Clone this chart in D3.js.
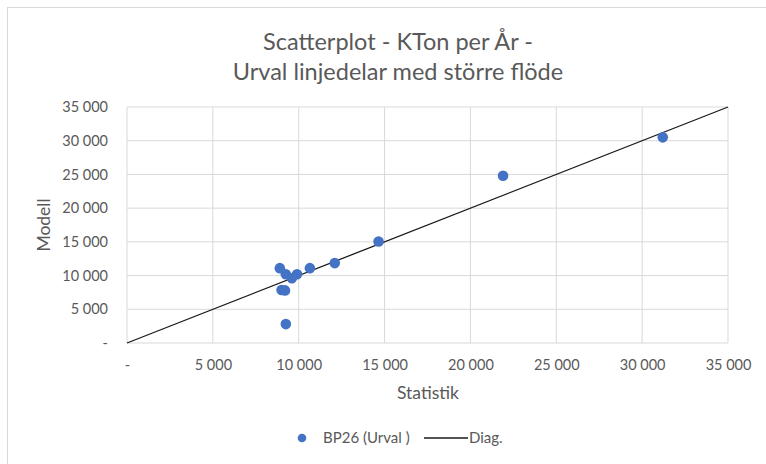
<!DOCTYPE html>
<html>
<head>
<meta charset="utf-8">
<script src="https://cdn.jsdelivr.net/npm/d3@7"></script>
<style>
  body { margin: 0; background: #fff; }
  text { font-family: Lato, "Open Sans", sans-serif; fill: #595959; }
</style>
</head>
<body>
<div id="chart"></div>
<script>
// BP26 (Urval) points: Statistik vs Modell
const statistik = [31200, 21900, 14650, 12100, 10650, 9900, 9600, 9250, 8900, 9000, 9200, 9250];
const modell    = [30500, 24800, 15050, 11850, 11100, 10200, 9600, 10200, 11100, 7850, 7800, 2800];
const tickValues = [0, 5000, 10000, 15000, 20000, 25000, 30000, 35000];
const diag = [[0, 0], [35000, 35000]];

const chartWidth = 766;
const chartHeight = 464;
const plotLeft = 127, plotRight = 728, plotTop = 107, plotBottom = 343;

const fmt = (d) => d === 0 ? '-' : d3.format(',')(d).replace(/,/g, ' ');

const svg = d3.select('#chart')
    .append('svg')
    .attr('width', chartWidth)
    .attr('height', chartHeight);

// chart area border
svg.append('rect')
    .attr('x', 7.5).attr('y', 7.5)
    .attr('width', chartWidth).attr('height', chartHeight)
    .attr('fill', 'none')
    .attr('stroke', '#d9d9d9');

const xScale = d3.scaleLinear().domain([0, 35000]).range([plotLeft, plotRight]);
const yScale = d3.scaleLinear().domain([0, 35000]).range([plotBottom, plotTop]);

// gridlines
svg.append('g').selectAll('line')
    .data(tickValues)
    .enter()
    .append('line')
    .attr('x1', (d) => xScale(d)).attr('x2', (d) => xScale(d))
    .attr('y1', plotTop).attr('y2', plotBottom)
    .attr('stroke', '#d9d9d9');

svg.append('g').selectAll('line')
    .data(tickValues)
    .enter()
    .append('line')
    .attr('x1', plotLeft).attr('x2', plotRight)
    .attr('y1', (d) => yScale(d)).attr('y2', (d) => yScale(d))
    .attr('stroke', '#d9d9d9');

// axes (labels only)
const xAxis = d3.axisBottom(xScale).tickValues(tickValues).tickFormat(fmt).tickSize(0).tickPadding(17);
const yAxis = d3.axisLeft(yScale).tickValues(tickValues).tickFormat(fmt).tickSize(0).tickPadding(19);

svg.append('g')
    .attr('transform', `translate(0, ${plotBottom})`)
    .call(xAxis)
    .call((g) => g.select('.domain').remove())
    .selectAll('text')
    .attr('font-size', 14.5)
    .attr('font-family', 'Lato, "Open Sans", sans-serif')
    .attr('fill', '#595959');

svg.append('g')
    .attr('transform', `translate(${plotLeft}, 0)`)
    .call(yAxis)
    .call((g) => g.select('.domain').remove())
    .selectAll('text')
    .attr('font-size', 14.5)
    .attr('font-family', 'Lato, "Open Sans", sans-serif')
    .attr('fill', '#595959');

// diagonal
const line = d3.line().x((d) => xScale(d[0])).y((d) => yScale(d[1]));
svg.append('path')
    .attr('d', line(diag))
    .attr('fill', 'none')
    .attr('stroke', '#1a1a1a')
    .attr('stroke-width', 1.3);

// points
svg.append('g').selectAll('circle')
    .data(statistik.map((s, i) => [s, modell[i]]))
    .enter()
    .append('circle')
    .attr('cx', (d) => xScale(d[0]))
    .attr('cy', (d) => yScale(d[1]))
    .attr('r', 5.3)
    .attr('fill', '#4472C4');

// titles
svg.append('text')
    .attr('x', 398).attr('y', 50)
    .attr('text-anchor', 'middle')
    .attr('font-size', 23.5)
    .text('Scatterplot - KTon per År -');
svg.append('text')
    .attr('x', 398).attr('y', 80)
    .attr('text-anchor', 'middle')
    .attr('font-size', 23.5)
    .text('Urval linjedelar med större flöde');

svg.append('text')
    .attr('x', 428).attr('y', 399)
    .attr('text-anchor', 'middle')
    .attr('font-size', 17.5)
    .text('Statistik');

svg.append('text')
    .attr('transform', 'translate(50, 225) rotate(-90)')
    .attr('text-anchor', 'middle')
    .attr('font-size', 17.5)
    .text('Modell');

// legend
const legend = svg.append('g');
legend.append('circle')
    .attr('cx', 302).attr('cy', 438).attr('r', 4.3)
    .attr('fill', '#4472C4');
legend.append('text')
    .attr('x', 323).attr('y', 443)
    .attr('font-size', 15)
    .text('BP26 (Urval )');
legend.append('line')
    .attr('x1', 424).attr('x2', 468)
    .attr('y1', 438).attr('y2', 438)
    .attr('stroke', '#1a1a1a')
    .attr('stroke-width', 1.3);
legend.append('text')
    .attr('x', 469).attr('y', 443)
    .attr('font-size', 15)
    .text('Diag.');
</script>
</body>
</html>
